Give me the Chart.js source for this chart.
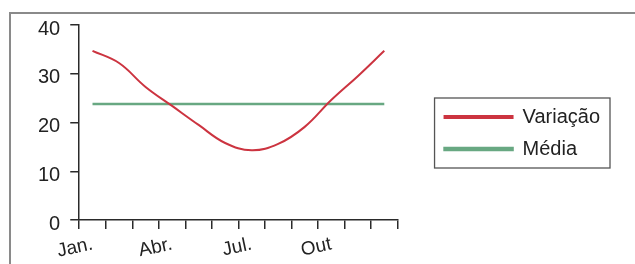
<!DOCTYPE html>
<html>
<head>
<meta charset="utf-8">
<script src="https://cdn.jsdelivr.net/npm/chart.js@4.4.1/dist/chart.umd.min.js"></script>
<style>
    html, body { margin: 0; padding: 0; background: #fff; overflow: hidden; }
    #frame {
        position: absolute; left: 9px; top: 12px; width: 700px; height: 300px;
        border-left: 2px solid #8a8a8a; border-top: 2px solid #8a8a8a;
    }
    #chart { position: absolute; left: 0; top: 0; }
</style>
</head>
<body>
<div id="frame"></div>
<canvas id="chart" width="635" height="264"></canvas>
<script>
// ====== DATA ======
const months = ['Jan.', 'Fev.', 'Mar.', 'Abr.', 'Mai.', 'Jun.', 'Jul.', 'Ago.', 'Set.', 'Out', 'Nov.', 'Dez.'];
const shownMonths = ['Jan.', 'Abr.', 'Jul.', 'Out'];
const variacao = [34.7, 32.2, 27.3, 23.4, 19.5, 15.8, 14.3, 15.6, 19.1, 24.6, 29.5, 34.7];
const media = [23.8, 23.8, 23.8, 23.8, 23.8, 23.8, 23.8, 23.8, 23.8, 23.8, 23.8, 23.8];
const yTicks = [0, 10, 20, 30, 40];

const RED = '#cc3440';
const GREEN = '#68a882';
const AXIS = '#2a2a2a';

Chart.defaults.font.family = '"Liberation Sans", Arial, sans-serif';
Chart.defaults.color = '#222';

// draws the box around the legend
const legendBox = {
    id: 'legendBox',
    afterDraw(chart) {
        const boxes = chart.legend.legendHitBoxes;
        if (!boxes || !boxes.length) return;
        const ctx = chart.ctx;
        const left = Math.min(...boxes.map(b => b.left)) - 10;
        const right = Math.max(...boxes.map(b => b.left + b.width)) + 10;
        const top = boxes[0].top - 9;
        const bottom = boxes[boxes.length - 1].top + boxes[boxes.length - 1].height + 9;
        ctx.save();
        ctx.strokeStyle = '#555';
        ctx.lineWidth = 1.3;
        ctx.strokeRect(left, top, right - left, bottom - top);
        ctx.restore();
    }
};

new Chart(document.getElementById('chart'), {
    type: 'line',
    data: {
        labels: months,
        datasets: [
            {
                label: 'Variação',
                data: variacao,
                borderColor: RED,
                backgroundColor: RED,
                borderWidth: 2,
                pointRadius: 0,
                tension: 0.4
            },
            {
                label: 'Média',
                data: media,
                borderColor: GREEN,
                backgroundColor: GREEN,
                borderWidth: 2.5,
                pointRadius: 0
            }
        ]
    },
    options: {
        responsive: false,
        animation: false,
        events: [],
        layout: { padding: { left: 28, right: 25, top: 25, bottom: 0 } },
        plugins: {
            tooltip: { enabled: false },
            legend: {
                position: 'right',
                fullSize: false,
                maxWidth: 260,
                // empty title only pushes the items down a little
                title: { display: true, text: ' ', font: { size: 10 }, padding: 4.5 },
                labels: {
                    boxWidth: 68,
                    boxHeight: 2,
                    padding: 12,
                    font: { size: 20 },
                    color: '#222'
                }
            }
        },
        scales: {
            x: {
                offset: true,
                grid: { offset: true, drawOnChartArea: false, tickLength: 9, color: AXIS, lineWidth: 1.5 },
                border: { color: AXIS, width: 1.5 },
                ticks: {
                    autoSkip: false,
                    minRotation: 12,
                    maxRotation: 12,
                    padding: 4,
                    font: { size: 19 },
                    callback: (v, i) => shownMonths.includes(months[i]) ? months[i] : ''
                },
                afterFit: s => { s.height = 44; s.paddingLeft = 0; s.paddingRight = 0; }
            },
            y: {
                min: 0,
                max: 40,
                afterBuildTicks: axis => { axis.ticks = yTicks.map(v => ({ value: v })); },
                grid: { drawOnChartArea: false, tickLength: 9, color: AXIS, lineWidth: 1.5 },
                border: { color: AXIS, width: 1.5 },
                ticks: { padding: 10, labelOffset: 4, font: { size: 20 } }
            },
            // empty axis, keeps the gap between plot and legend
            gap: {
                position: 'right',
                grid: { display: false },
                border: { display: false },
                ticks: { display: false },
                afterFit: s => { s.width = 35; }
            }
        }
    },
    plugins: [legendBox]
});
</script>
</body>
</html>
